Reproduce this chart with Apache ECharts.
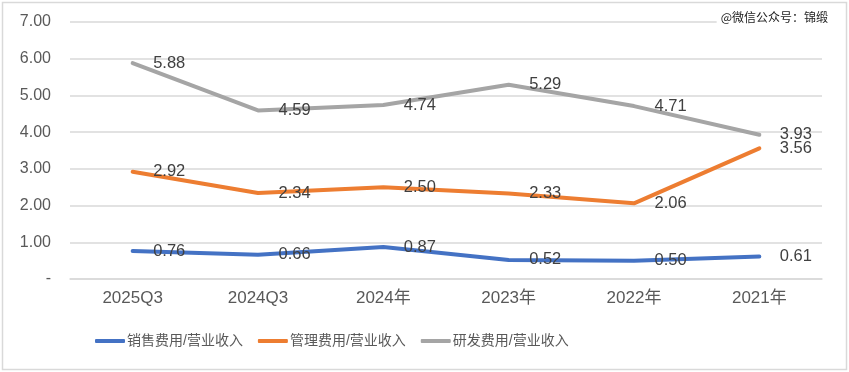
<!DOCTYPE html>
<html><head><meta charset="utf-8">
<script src="https://cdn.jsdelivr.net/npm/echarts@6/dist/echarts.min.js"></script>
<style>html,body{margin:0;padding:0;background:#fff}#c{width:849px;height:372px}</style>
</head><body><div id="c"></div>
<script>
const categories = ['2025Q3','2024Q3','2024年','2023年','2022年','2021年'];
const sales = [0.76,0.66,0.87,0.52,0.50,0.61];
const admin = [2.92,2.34,2.50,2.33,2.06,3.56];
const rnd = [5.88,4.59,4.74,5.29,4.71,3.93];
const seriesNames = ['销售费用/营业收入','管理费用/营业收入','研发费用/营业收入'];
const colors = ['#4472C4','#ED7D31','#A5A5A5'];
const FONT = '"Liberation Sans","Noto Sans CJK SC",sans-serif';
const chart = echarts.init(document.getElementById('c'));
function mk(name, data, color){
  return {name, type:'line', data, symbol:'circle', symbolSize:1, showSymbol:true,
    lineStyle:{width:4, color, cap:'round', join:'round'}, itemStyle:{color},
    label:{show:true, position:'right', distance:20, formatter:p=>p.value.toFixed(2),
      fontSize:16.5, color:'#404040', fontFamily:FONT}};
}
chart.setOption({
  animation:false,
  color:colors,
  grid:{left:70,right:27,top:22,bottom:93},
  xAxis:{type:'category', data:categories, boundaryGap:true,
    axisLine:{show:true,lineStyle:{color:'#D9D9D9',width:1.5}}, axisTick:{show:false},
    axisLabel:{fontSize:17,color:'#595959',margin:11,fontFamily:FONT}},
  yAxis:{type:'value', min:0, max:7, interval:1,
    axisLine:{show:false}, axisTick:{show:false},
    splitLine:{lineStyle:{color:'#D9D9D9',width:1.5}},
    axisLabel:{fontSize:16,color:'#595959',margin:19,fontFamily:FONT,
      formatter:v=>v===0?'-':v.toFixed(2)}},
  legend:{bottom:19,left:90,itemWidth:30,itemHeight:4,itemGap:15,
    icon:'roundRect',
    textStyle:{fontSize:14,color:'#595959',fontFamily:FONT,padding:[0,0,0,-3]},
    data:seriesNames},
  graphic:[
    {type:'rect',left:0,top:0,shape:{width:844,height:367},style:{fill:'none',stroke:'#D9D9D9',lineWidth:1.5},z:-1},
    {type:'text',right:17,top:9,style:{text:'@微信公众号：锦缎',fontSize:12,fill:'#222',
      fontFamily:'"Noto Sans CJK SC",sans-serif',backgroundColor:'#fff',padding:[2,4]},z:100}
  ],
  series:[mk(seriesNames[0],sales,colors[0]),mk(seriesNames[1],admin,colors[1]),mk(seriesNames[2],rnd,colors[2])]
});
</script></body></html>
